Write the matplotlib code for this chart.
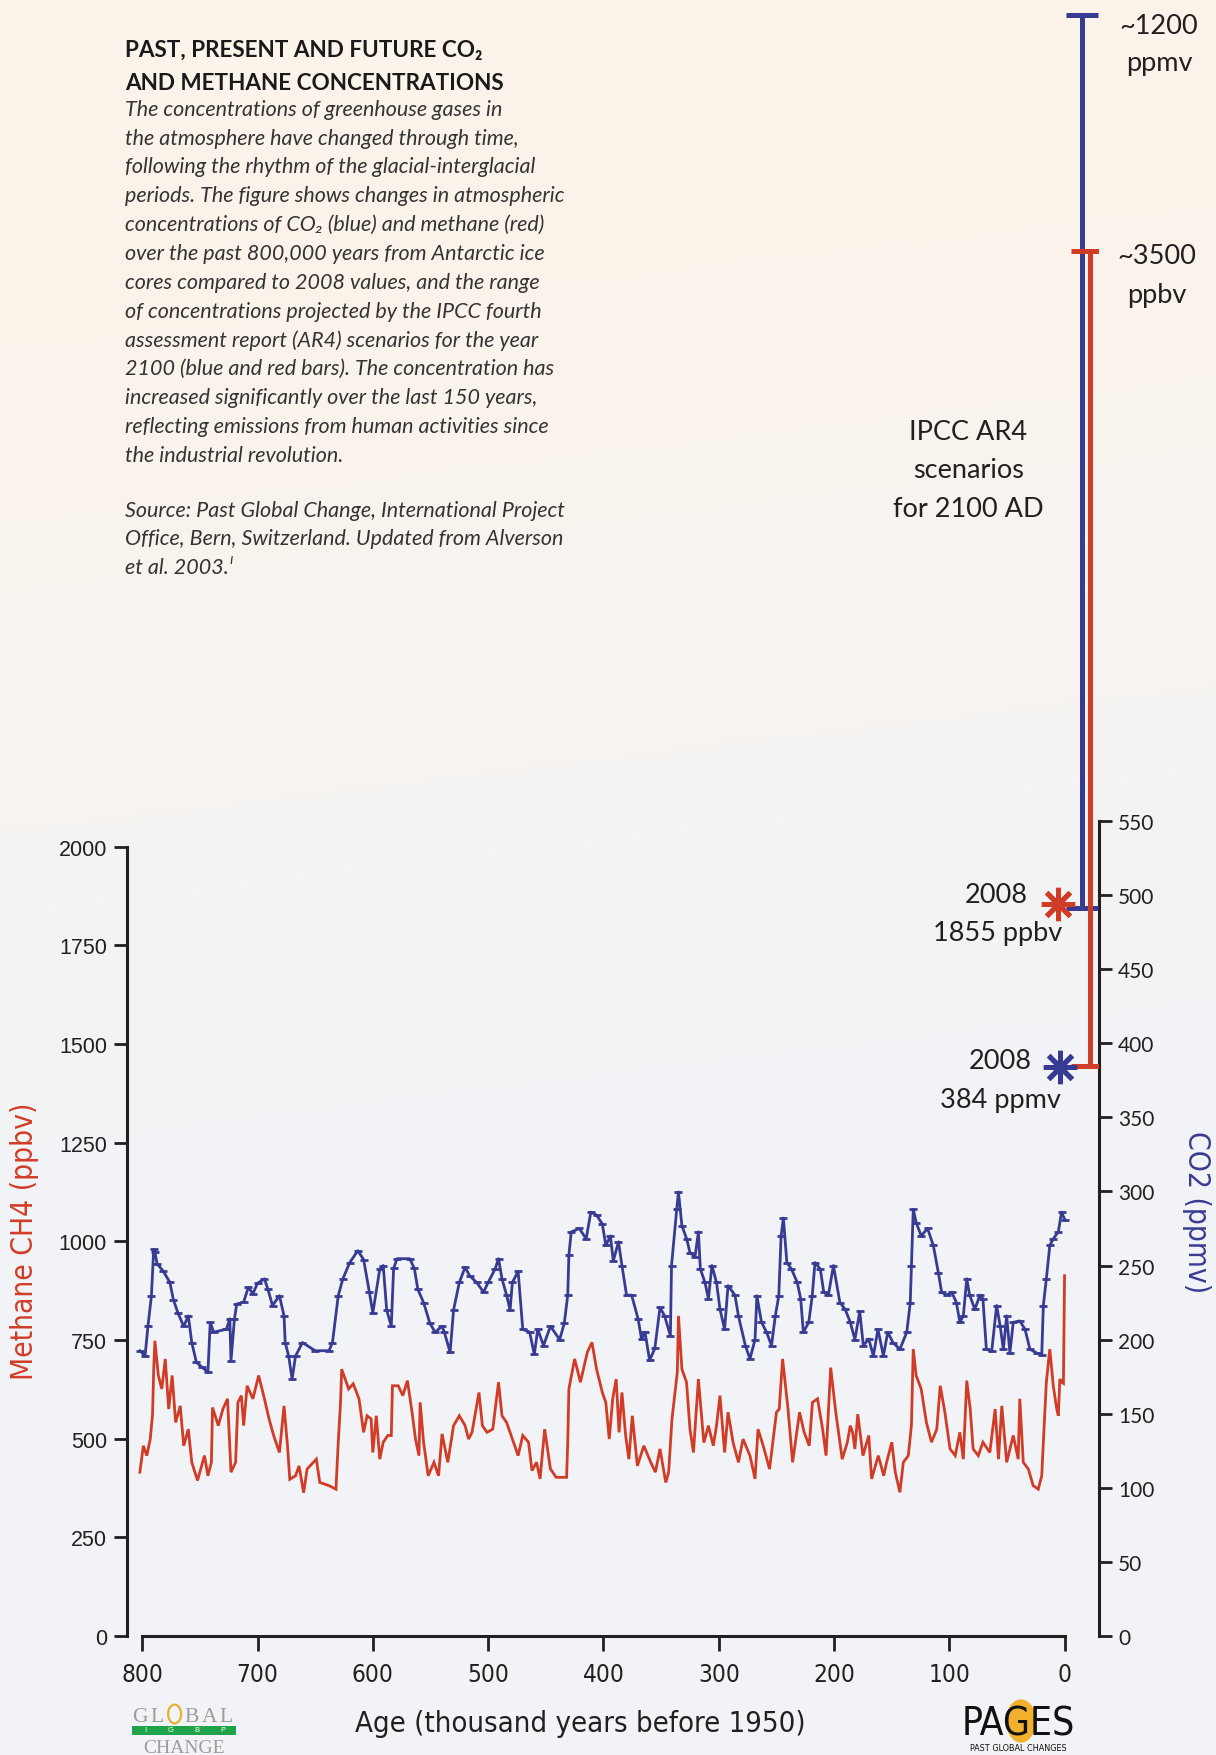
import os
import numpy as np
import matplotlib
matplotlib.use('Agg')
import matplotlib.pyplot as plt
from matplotlib import font_manager as fm
from matplotlib.patches import Circle, Rectangle

# ---------------- data ----------------
co2_age = [802, 797.5, 795, 792, 790, 789, 787, 782, 776, 773, 769, 764, 760, 757, 753, 748, 743, 741, 738,
           727, 724, 723, 720, 718, 712, 708, 704, 700, 694, 691, 687, 681, 677, 676, 673, 670, 667, 661,
           650, 638, 635, 630, 626, 620, 613, 608, 603, 600, 594, 591, 588, 584, 582, 579, 568, 564, 561,
           556, 550.5, 546, 540, 538, 533, 530, 525, 520, 516, 510, 504, 500, 494, 491, 488, 484, 481, 479,
           474, 470, 464, 460, 457, 452, 446, 438, 434, 431, 430, 428, 421, 415, 411, 406, 401, 398, 394,
           391.5, 387, 384, 380, 375.6, 370, 367, 364, 360, 355.5, 351, 347, 342, 341, 336.5, 335, 332,
           327.9, 325, 320.6, 317.7, 316, 312, 309, 306, 302, 299, 295, 292, 286, 283, 277, 273, 268.6,
           267, 263, 258.6, 254.3, 251, 248, 246, 244, 241, 237, 232, 229, 226.7, 222, 219, 216.6, 212,
           209, 205, 200.6, 195, 190.5, 186, 182, 177.8, 174.7, 170, 166, 162, 157.3, 153.5, 149, 143,
           137, 134, 133, 131.4, 128.9, 124.5, 119, 114, 109.6, 106.8, 102.5, 98, 94, 91, 88, 85, 82.5,
           78, 73.6, 71, 68, 63.4, 59.1, 56, 53.3, 50.4, 47.6, 44.7, 39, 34.5, 30.2, 24.4, 20, 18.6, 16,
           13, 10, 5.6, 2.8, 0]
co2_val = [192.5, 189, 209, 229.6, 261, 259, 251, 246.5, 238.7, 227, 218, 209, 216, 198, 184.7, 181.3, 178,
           211.7, 205, 207, 214, 185.8, 214, 224, 225.3, 235.3, 231, 238, 241, 234, 223, 229.6, 216, 198,
           189, 173.4, 189, 198, 192.5, 192.5, 198, 229.6, 241, 252, 260, 254, 232, 218, 247.6, 250, 220,
           209, 248, 254.6, 254.6, 248, 234, 225, 211, 205, 209, 205, 191.4, 220, 238.6, 248.8, 243,
           238.6, 232, 238.6, 247.6, 254.6, 241, 230, 220, 238.6, 246, 207, 205, 190, 207, 196, 209, 200,
           211, 230, 257, 272.6, 275, 268, 286, 284, 278, 263.5, 270, 253, 266, 250, 230, 230, 214, 200.4,
           205, 186, 194, 221.7, 216, 202.6, 250, 288, 299.6, 276.8, 268, 258.7, 256, 272.7, 247.6, 238.6,
           227.5, 250, 238.6, 220.5, 207, 236.4, 230, 216, 196, 187, 200, 229.6, 211.7, 205, 196, 216,
           229.6, 270, 282, 252, 247.6, 238.6, 227.5, 205, 211.7, 229.6, 252, 247.6, 232, 230, 250, 225,
           220.5, 211.7, 200, 219, 196, 200.4, 189, 207, 189, 205, 198, 193.5, 205, 225, 250, 288, 279,
           270, 275, 263.5, 245, 232, 230, 232, 225, 211.7, 216, 241, 230, 220.5, 230, 227.5, 193.5, 192,
           223, 209, 193.5, 216, 191, 211.7, 212.6, 207, 193.5, 191, 189.5, 223, 241, 263.5, 268, 272.7,
           286, 281]

ch4_age = [802, 799, 796, 793, 791, 790, 789, 786, 783, 780, 777, 774, 771, 767, 764, 760, 757, 752, 746,
           743, 740, 739, 734, 730, 726, 723, 719, 717, 714, 712, 709, 704, 699, 694, 690, 686, 681, 677,
           674, 672, 667, 664, 660, 657, 649, 646, 638, 632, 630, 628, 627, 621, 617, 612, 608, 605, 601.5,
           600, 597, 594, 591, 587, 584, 583, 578, 574, 570, 566, 563, 560, 559, 556, 552, 547, 543, 540,
           535, 530, 525, 520, 517, 514, 508, 505, 501, 496, 491, 488, 484, 478, 474, 470, 465, 462, 458,
           455, 451, 446, 441, 432, 431, 430, 425, 420, 414, 410, 406, 401, 398, 395, 392, 389, 386.5, 384,
           380.8, 378, 375, 370.6, 365, 359, 355, 351, 346, 343.5, 340.6, 336, 335, 332, 328, 325, 322,
           317.7, 313, 309, 304.8, 302, 299, 295, 292, 287.6, 283, 279, 273, 268.6, 266, 261.5, 256, 250,
           247.6, 244.7, 240, 236, 230, 226, 221.6, 218.8, 214.4, 210, 207, 203, 198.6, 193, 188.6, 186,
           184, 182, 179.5, 175, 170, 167.5, 161.7, 157, 154.5, 150, 147, 143, 140, 135.7, 133, 131.4,
           128.9, 124.5, 120, 115.6, 111, 108, 104, 99.5, 95, 91, 88, 85, 82, 79.5, 75, 71, 65, 60.4,
           57.5, 54.6, 50.4, 44.7, 40.4, 39, 36, 31.6, 27.4, 23, 20, 18.6, 16, 13, 10, 7, 5.6, 4.3, 2.8,
           1.2, 0.2]
ch4_val = [415, 482, 457, 499, 562, 676, 748, 660, 626, 702, 575, 660, 541, 583, 482, 524, 440, 394, 457,
           406, 440, 579, 533, 575, 601, 415, 440, 592, 609, 533, 634, 601, 660, 601, 550, 508, 465, 583,
           482, 397, 406, 431, 363, 423, 448, 389, 381, 372, 490, 592, 676, 626, 639, 601, 516, 558, 550,
           465, 558, 448, 491, 508, 508, 634, 634, 609, 647, 567, 499, 457, 592, 491, 406, 440, 406, 512,
           440, 533, 558, 533, 499, 516, 617, 533, 516, 524, 643, 558, 541, 491, 457, 508, 491, 419, 440,
           398, 524, 423, 402, 402, 490, 626, 702, 643, 719, 744, 676, 617, 592, 499, 601, 651, 516, 617,
           508, 448, 558, 431, 482, 440, 415, 474, 389, 415, 550, 668, 811, 676, 643, 524, 465,
           651, 490, 533, 482, 533, 609, 465, 567, 490, 440, 499, 457, 398, 524, 482, 423, 567,
           575, 702, 575, 440, 567, 516, 482, 592, 601, 524, 457, 680, 567, 448, 490, 533,
           516, 474, 562, 457, 508, 398, 457, 406, 440, 491, 415, 364, 440, 457, 533, 727,
           660, 626, 541, 491, 524, 634, 567, 474, 457, 516, 448, 647, 575, 474, 457, 491, 465, 575,
           448, 583, 440, 508, 448, 601, 440, 423, 381, 372, 406, 491, 643, 727, 634, 575, 558, 651, 643,
           640, 913]

ipcc_co2_range = [491, 1094]     # ppmv, drawn range of the blue bar (top labelled ~1200)
ipcc_ch4_range = [1444, 3510]    # ppbv, red bar
co2_2008 = 384
ch4_2008 = 1855
ch4_ticks = [0, 250, 500, 750, 1000, 1250, 1500, 1750, 2000]
co2_ticks = [0, 50, 100, 150, 200, 250, 300, 350, 400, 450, 500, 550]
age_ticks = [0, 100, 200, 300, 400, 500, 600, 700, 800]

body_lines = [
    "The concentrations of greenhouse gases in",
    "the atmosphere have changed through time,",
    "following the rhythm of the glacial-interglacial",
    "periods. The figure shows changes in atmospheric",
    "concentrations of CO\u2082 (blue) and methane (red)",
    "over the past 800,000 years from Antarctic ice",
    "cores compared to 2008 values, and the range",
    "of concentrations projected by the IPCC fourth",
    "assessment report (AR4) scenarios for the year",
    "2100 (blue and red bars). The concentration has",
    "increased significantly over the last 150 years,",
    "reflecting emissions from human activities since",
    "the industrial revolution.",
]
source_lines = [
    "Source: Past Global Change, International Project",
    "Office, Bern, Switzerland. Updated from Alverson",
    "et al. 2003.\u2071",
]

# ---------------- fonts ----------------
names = {f.name for f in fm.fontManager.ttflist}
MAIN = 'Lato' if 'Lato' in names else 'Open Sans'
FAM = [MAIN, 'DejaVu Sans']
ARIAL = ['Liberation Sans', 'DejaVu Sans']

narrow_file = None
for f in fm.fontManager.ttflist:
    if f.name == 'Liberation Sans Narrow' and f.style == 'normal' and f.weight in (400, 'normal', 'regular'):
        narrow_file = f.fname
        break
if narrow_file is None:
    for fam in ['Noto Sans', 'DejaVu Sans', 'Open Sans', 'Roboto']:
        for f in fm.fontManager.ttflist:
            b = os.path.basename(f.fname)
            if f.name == fam and 'Condensed' in b and not any(k in b for k in
                    ['Bold', 'Italic', 'Light', 'Semi', 'Extra', 'Black', 'Thin', 'Medium', 'Oblique']):
                narrow_file = f.fname
                break
        if narrow_file:
            break


def narrow(size):
    if narrow_file:
        return fm.FontProperties(fname=narrow_file, size=size)
    return fm.FontProperties(family='DejaVu Sans', size=size)


# ---------------- figure ----------------
W, H = 1216, 1756
fig = plt.figure(figsize=(W / 100, H / 100), dpi=100)

# background gradient
bg = fig.add_axes([0, 0, 1, 1], zorder=-10)
ny, nx = 300, 150
yy, xx = np.mgrid[0:1:ny * 1j, 0:1:nx * 1j]
t = np.clip(yy * 1.45 + 0.12 * xx - 0.12, 0, 1)
t = t * t * (3 - 2 * t)
warm = np.array([252, 244, 234]) / 255
cool = np.array([242, 243, 247]) / 255
img = warm[None, None, :] * (1 - t[..., None]) + cool[None, None, :] * t[..., None]
bg.imshow(img, aspect='auto', extent=[0, 1, 0, 1], origin='upper')
bg.axis('off')

BLUE = '#383B92'
RED = '#D13C27'
INK = '#231F20'

L = 126.5 / W
B = (H - 1637) / H
ax = fig.add_axes([L, B, (1098.7 - 126.5) / W, 1637 / H])
ax.patch.set_alpha(0)
ax.set_xlim(813.6, -29.4)
ax.set_ylim(0, 4147.5)
ax2 = ax.twinx()
ax2.set_ylim(0, 1104.6)
ax2.patch.set_alpha(0)

# data lines
ax.plot(ch4_age, ch4_val, color=RED, lw=2.0, solid_joinstyle='miter', zorder=3)
ax2.plot(co2_age, co2_val, color=BLUE, lw=2.0, marker='_', ms=6, mew=2.0, zorder=3)

# IPCC bars
bx, rx = -15, -22
ax2.plot([bx, bx], ipcc_co2_range, color=BLUE, lw=3.6, solid_capstyle='butt', zorder=4)
ax2.hlines(ipcc_co2_range, bx + 14, bx - 14, color=BLUE, lw=3.6, zorder=4)
ax2.plot([rx, rx], ipcc_ch4_range, color=RED, lw=3.6, solid_capstyle='butt',
         transform=ax.transData, zorder=5)
ax2.hlines(ipcc_ch4_range, rx + 16.5, rx - 16.5, color=RED, lw=3.6,
           transform=ax.transData, zorder=5)

# 2008 markers
ax2.plot([5.5], [ch4_2008], marker=(8, 2, 0), ms=24, mew=3.6, color=RED,
         transform=ax.transData, zorder=6, linestyle='none')
ax2.plot([4.2], [co2_2008], marker=(8, 2, 0), ms=24, mew=3.6, color=BLUE, zorder=6, linestyle='none')

# spines / ticks
for s in ['top', 'right']:
    ax.spines[s].set_visible(False)
for s in ['top', 'left', 'bottom']:
    ax2.spines[s].set_visible(False)
ax.spines['left'].set_bounds(0, 2000)
ax.spines['bottom'].set_bounds(0, 800)
ax2.spines['right'].set_bounds(0, 550)
for sp in [ax.spines['left'], ax.spines['bottom'], ax2.spines['right']]:
    sp.set_linewidth(2.2)
    sp.set_color(INK)

ax.set_yticks(ch4_ticks)
ax.set_yticklabels([str(v) for v in ch4_ticks])
ax.set_xticks(age_ticks)
ax.set_xticklabels([str(v) for v in age_ticks])
ax2.set_yticks(co2_ticks)
ax2.set_yticklabels([str(v) for v in co2_ticks])
ax.tick_params(axis='y', direction='out', length=9.5, width=2, pad=4.5, colors=INK)
ax.tick_params(axis='x', direction='out', length=11, width=2, pad=8, colors=INK)
ax2.tick_params(axis='y', direction='out', length=9.5, width=2, pad=4.5, colors=INK)
for lab in ax.get_yticklabels():
    lab.set_family(ARIAL)
    lab.set_fontsize(15.5)
for lab in ax.get_xticklabels():
    lab.set_fontproperties(narrow(17.5))
for lab in ax2.get_yticklabels():
    lab.set_family(FAM)
    lab.set_fontsize(15)


def ftext(x, y, s, **kw):
    return fig.text(x / W, 1 - y / H, s, **kw)


# axis labels
ftext(24.6, 1241.7, "Methane CH4 (ppbv)", rotation=90, ha='center', va='center',
      color=RED, fontproperties=narrow(21.5))
ftext(1196, 1212, "CO2 (ppmv)", rotation=270, ha='center', va='center',
      color=BLUE, fontproperties=narrow(21.5))
ftext(580, 1724, "Age (thousand years before 1950)", ha='center', va='center',
      color=INK, fontproperties=narrow(21))

# title and body text
ftext(125, 57, "PAST, PRESENT AND FUTURE CO\u2082", family=FAM, fontweight='bold',
      fontsize=16.2, color='#1A1A1A', va='baseline')
ftext(125, 89.5, "AND METHANE CONCENTRATIONS", family=FAM, fontweight='bold',
      fontsize=16.2, color='#1A1A1A', va='baseline')
for i, line in enumerate(body_lines):
    ftext(125, 109.7 + i * 28.83, line, family=FAM, style='italic', fontsize=15.5,
          color='#333333', va='center')
for i, line in enumerate(source_lines):
    ftext(125, 510.6 + i * 28.83, line, family=FAM, style='italic', fontsize=15.5,
          color='#333333', va='center')

# right-side annotations
ann = dict(family=FAM, fontsize=19.5, color=INK, ha='center', va='center')
ftext(1159, 26, "~1200", **ann)
ftext(1159, 63, "ppmv", **ann)
ftext(1157, 256, "~3500", **ann)
ftext(1157, 295, "ppbv", **ann)
ftext(968.5, 432, "IPCC AR4", **ann)
ftext(968.5, 471, "scenarios", **ann)
ftext(968.5, 509.5, "for 2100 AD", **ann)
ftext(996.5, 895.8, "2008", **ann)
ftext(997.6, 933.8, "1855 ppbv", **ann)
ftext(1000, 1061.5, "2008", **ann)
ftext(1000, 1100.7, "384 ppmv", **ann)

# GLOBAL CHANGE logo (bottom-left)
gray = '#9C9C9C'
letters = "GLOBAL"
for i, ch in enumerate(letters):
    if ch == 'O' and i == 2:
        fig.patches.append(Circle(((132 + 8 + i * 17.3) / W, 1 - 1715 / H), 6.5 / W,
                                  transform=fig.transFigure, fill=False, ec='#E2B232', lw=1.6))
        continue
    ftext(132 + 8 + i * 17.3, 1722, ch, family=['Liberation Serif', 'DejaVu Serif'],
          fontsize=15.5, color=gray, ha='center', va='baseline')
fig.patches.append(Rectangle((132 / W, 1 - 1735.5 / H), 104 / W, 9 / H,
                             transform=fig.transFigure, color='#1FA34A', lw=0))
for i, ch in enumerate("IGBP"):
    ftext(145 + i * 26, 1731, ch, family=ARIAL, fontsize=5.5, color='white',
          ha='center', va='center')
ftext(184, 1753, "CHANGE", family=['Liberation Serif', 'DejaVu Serif'], fontsize=14,
      color=gray, ha='center', va='baseline')

# PAGES logo (bottom-right)
fig.patches.append(Circle((1021 / W, 1 - 1722 / H), 15 / W, transform=fig.transFigure,
                          color='#F3B02F', lw=0, zorder=0))
ftext(1018, 1736, "PAGES", ha='center', va='baseline', color='#111111',
      fontproperties=narrow(28), zorder=2)
ftext(1018, 1749, "PAST GLOBAL CHANGES", ha='center', va='center', color='#111111',
      fontproperties=narrow(6.5))

fig.savefig('out.png', dpi=100)
